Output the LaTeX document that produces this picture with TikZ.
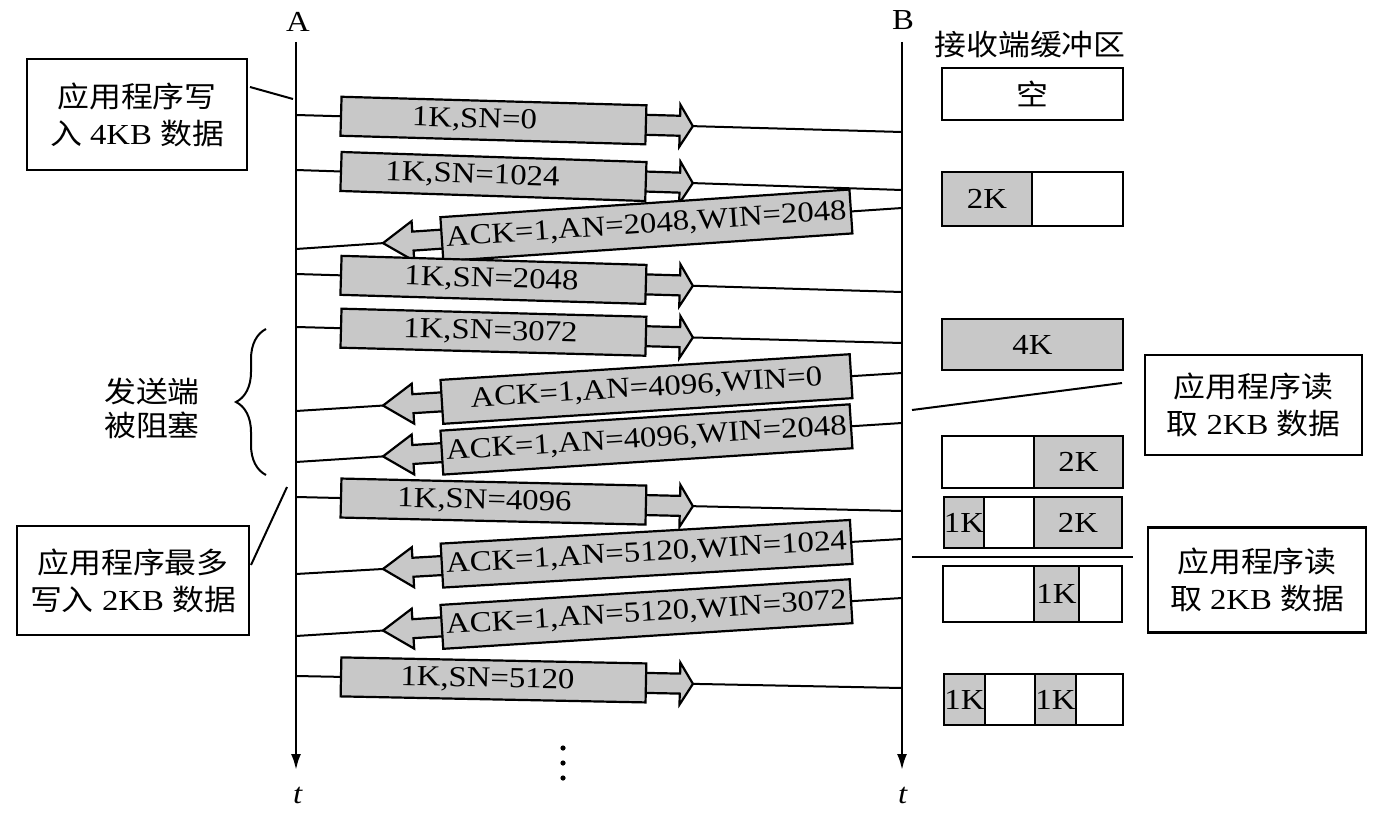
\documentclass[tikz,border=0pt]{standalone}
\usepackage{fontspec}
\setmainfont{Liberation Serif}[FakeStretch=1.13]
\newfontfamily\cjk{Noto Sans CJK SC}[FakeStretch=1.1]
\usetikzlibrary{arrows.meta,decorations.pathreplacing}
\definecolor{boxgray}{RGB}{200,200,200}
\newcommand\zh[1]{{\cjk\fontsize{14.5pt}{18.5pt}\selectfont #1}}
\tikzset{
  every node/.style={font=\fontsize{14.5pt}{18.5pt}\selectfont, inner sep=0pt},
  ln/.style={line width=1pt},
  tline/.style={line width=1.2pt, -{Latex[length=8pt,width=5pt]}},
  fat/.style={draw, fill=boxgray, line width=1.1pt, line join=miter},
  sbody/.style={draw, fill=boxgray, line width=1.1pt, minimum width=152.5pt, minimum height=19.5pt, transform shape},
  abody/.style={draw, fill=boxgray, line width=1.1pt, minimum width=205pt, minimum height=22pt, transform shape},
  btext/.style={transform shape},
  note/.style={draw, line width=1.1pt, align=center},
}
% right-going data segment: #1 id, #2 y at A, #3 y at B, #4 text, #5 text offset (px)
\newcommand\sendmsg[5]{%
  \coordinate (A#1) at (296,#2);
  \coordinate (B#1) at (902,#3);
  \draw[ln] (A#1) -- (B#1);
  \pgfmathsetmacro\msgang{atan((#2-#3)/606)}%
  \pgfmathsetmacro\msgy{#2+(#3-#2)*45/606}%
  \begin{scope}[shift={(341,\msgy)}, rotate=\msgang]
    \draw[fat] (300,-10) -- (339,-10) -- (339,-21) -- (352,0) -- (339,21) -- (339,10) -- (300,10) -- cycle;
    \node[sbody] (M#1) at (152.5,0) {};
    \node[btext] (T#1) at ({152.5+#5},0) {#4};
  \end{scope}}
% left-going ack: #1 id, #2 y at A, #3 y at B, #4 text
\newcommand\ackmsg[4]{%
  \coordinate (A#1) at (296,#2);
  \coordinate (B#1) at (902,#3);
  \draw[ln] (B#1) -- (A#1);
  \pgfmathsetmacro\msgang{atan((#2-#3)/606)}%
  \pgfmathsetmacro\msgy{#2+(#3-#2)*87/606}%
  \begin{scope}[shift={(383,\msgy)}, rotate=\msgang]
    \draw[fat] (64,-9.5) -- (30,-9.5) -- (30,-20) -- (0,0) -- (30,20) -- (30,9.5) -- (64,9.5) -- cycle;
    \node[abody] (M#1) at (264,0) {#4};
  \end{scope}}
% buffer cell: #1 name, #2 x1, #3 y1, #4 x2, #5 y2, #6 fill, #7 text
\newcommand\bufcell[7]{%
  \pgfmathsetmacro\cellw{(#4-#2)/2}%
  \pgfmathsetmacro\cellh{(#5-#3)/2}%
  \node[draw, line width=1.1pt, fill=#6, minimum width=\cellw pt, minimum height=\cellh pt] (#1) at ({(#2+#4)/2},{(#3+#5)/2}) {#7};}
\begin{document}
\begin{tikzpicture}[x=0.5pt, y=-0.5pt]
\useasboundingbox (0,0) rectangle (1380,818);
% timelines
\coordinate (Atop) at (296,42);
\coordinate (Abot) at (296,770);
\coordinate (Btop) at (902,42);
\coordinate (Bbot) at (902,770);
\draw[tline] (Atop) -- (Abot);
\draw[tline] (Btop) -- (Bbot);
\node (lblA) at (298,22) {A};
\node (lblB) at (903,20) {B};
\node (tA) at (298,795) {\textit{t}};
\node (tB) at (903,795) {\textit{t}};
% messages
\sendmsg{1}{115}{132}{1K,SN=0}{-19}
\sendmsg{2}{170}{190}{1K,SN=1024}{-21}
\ackmsg{3}{249}{208}{ACK=1,AN=2048,WIN=2048}
\sendmsg{4}{274}{292}{1K,SN=2048}{-2}
\sendmsg{5}{327}{343}{1K,SN=3072}{-3}
\ackmsg{6}{411}{373}{ACK=1,AN=4096,WIN=0}
\ackmsg{7}{462}{423}{ACK=1,AN=4096,WIN=2048}
\sendmsg{8}{497}{511}{1K,SN=4096}{-9}
\ackmsg{9}{574}{539}{ACK=1,AN=5120,WIN=1024}
\ackmsg{10}{636}{598}{ACK=1,AN=5120,WIN=3072}
\sendmsg{11}{676}{688}{1K,SN=5120}{-6}
% continuation dots
\fill (563,748) circle (1.3pt);
\fill (563,763) circle (1.3pt);
\fill (563,778) circle (1.3pt);
% receive buffer
\node (recv) at (1030,45) {\zh{接收端缓冲区}};
\bufcell{b1}{942}{68}{1123}{120}{white}{\zh{空}}
\bufcell{b2a}{942}{172}{1032}{226}{boxgray}{2K}
\bufcell{b2b}{1032}{172}{1123}{226}{white}{}
\bufcell{b3}{942}{319}{1123}{370}{boxgray}{4K}
\bufcell{b4a}{942}{436}{1034}{488}{white}{}
\bufcell{b4b}{1034}{436}{1123}{488}{boxgray}{2K}
\bufcell{b5a}{944}{497}{984}{548}{boxgray}{1K}
\bufcell{b5b}{984}{497}{1034}{548}{white}{}
\bufcell{b5c}{1034}{497}{1122}{548}{boxgray}{2K}
\bufcell{b6a}{943}{566}{1034}{622}{white}{}
\bufcell{b6b}{1034}{566}{1079}{622}{boxgray}{1K}
\bufcell{b6c}{1079}{566}{1122}{622}{white}{}
\bufcell{b7a}{944}{674}{985}{725}{boxgray}{1K}
\bufcell{b7b}{985}{674}{1035}{725}{white}{}
\bufcell{b7c}{1035}{674}{1076}{725}{boxgray}{1K}
\bufcell{b7d}{1076}{674}{1123}{725}{white}{}
% read notes
\node[note, minimum width=108.5pt, minimum height=50pt] (rd1) at (1253.5,405) {\zh{应用程序读}\\\zh{取} 2KB \zh{数据}};
\node[note, minimum width=109pt, minimum height=52.5pt] (rd2) at (1257,580) {\zh{应用程序读}\\\zh{取} 2KB \zh{数据}};
\coordinate (rl1a) at (912,410);
\coordinate (rl1b) at (1122,383);
\draw[ln] (rl1a) -- (rl1b);
\coordinate (rl2a) at (912,557);
\coordinate (rl2b) at (1133,557);
\draw[ln] (rl2a) -- (rl2b);
% left notes
\node[note, minimum width=110pt, minimum height=55.5pt] (wr4) at (137,114.5) {\zh{应用程序写}\\\zh{入} 4KB \zh{数据}};
\coordinate (c1a) at (250,87);
\coordinate (c1b) at (293,99);
\draw[ln] (c1a) -- (c1b);
\node[note, minimum width=116pt, minimum height=54.5pt] (wr2) at (133,580.5) {\zh{应用程序最多}\\\zh{写入} 2KB \zh{数据}};
\coordinate (c2a) at (251,565);
\coordinate (c2b) at (287,487);
\draw[ln] (c2a) -- (c2b);
\node[align=center, font=\fontsize{14.5pt}{17pt}\selectfont] (blk) at (152,408) {\zh{发送端}\\\zh{被阻塞}};
\coordinate (brb) at (266,475);
\coordinate (brt) at (266,329);
\draw[ln, decorate, decoration={brace, amplitude=15pt}] (brb) -- (brt);
\end{tikzpicture}
\end{document}
